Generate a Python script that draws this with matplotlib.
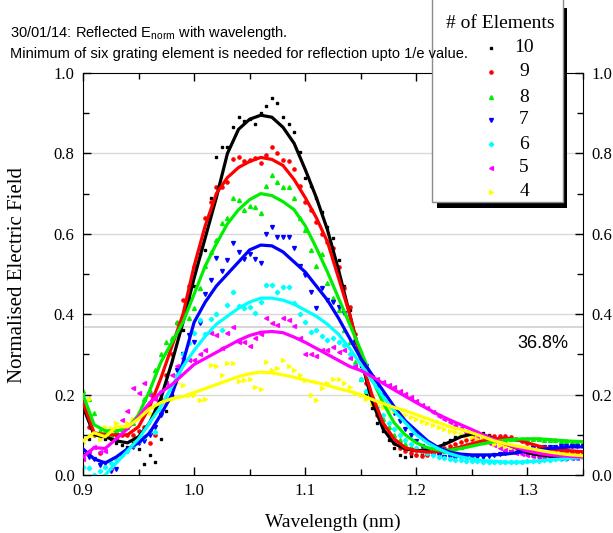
import matplotlib.pyplot as plt
from matplotlib.patches import Rectangle
from matplotlib.lines import Line2D
from matplotlib.ticker import MultipleLocator, FormatStrFormatter

# wavelength grid of the smoothed curves (nm)
wl_line = [0.90, 0.91, 0.92, 0.93, 0.94, 0.95, 0.96, 0.97, 0.98, 0.99,
           1.00, 1.01, 1.02, 1.03, 1.04, 1.05, 1.06, 1.07, 1.08, 1.09,
           1.10, 1.11, 1.12, 1.13, 1.14, 1.15, 1.16, 1.17, 1.18, 1.19,
           1.20, 1.21, 1.22, 1.23, 1.24, 1.25, 1.26, 1.27, 1.28, 1.29,
           1.30, 1.31, 1.32, 1.33, 1.34, 1.35]

# wavelength grid of the raw points (nm)
wl_pts = [0.900, 0.905, 0.910, 0.915, 0.920, 0.925, 0.930, 0.935, 0.940, 0.945,
          0.950, 0.955, 0.960, 0.965, 0.970, 0.975, 0.980, 0.985, 0.990, 0.995,
          1.000, 1.005, 1.010, 1.015, 1.020, 1.025, 1.030, 1.035, 1.040, 1.045,
          1.050, 1.055, 1.060, 1.065, 1.070, 1.075, 1.080, 1.085, 1.090, 1.095,
          1.100, 1.105, 1.110, 1.115, 1.120, 1.125, 1.130, 1.135, 1.140, 1.145,
          1.150, 1.155, 1.160, 1.165, 1.170, 1.175, 1.180, 1.185, 1.190, 1.195,
          1.200, 1.205, 1.210, 1.215, 1.220, 1.225, 1.230, 1.235, 1.240, 1.245,
          1.250, 1.255, 1.260, 1.265, 1.270, 1.275, 1.280, 1.285, 1.290, 1.295,
          1.300, 1.305, 1.310, 1.315, 1.320, 1.325, 1.330, 1.335, 1.340, 1.345,
          1.350]

# smoothed curves
line_10 = [0.17, 0.10, 0.095, 0.085, 0.08, 0.095, 0.13, 0.19, 0.28, 0.38,
           0.49, 0.59, 0.69, 0.80, 0.86, 0.885, 0.895, 0.89, 0.865, 0.825,
           0.76, 0.69, 0.61, 0.51, 0.40, 0.29, 0.185, 0.115, 0.078, 0.065,
           0.06, 0.063, 0.07, 0.082, 0.095, 0.102, 0.10, 0.09, 0.078, 0.067,
           0.055, 0.05, 0.047, 0.046, 0.045, 0.045]
line_9 = [0.18, 0.105, 0.10, 0.10, 0.10, 0.12, 0.17, 0.24, 0.32, 0.40,
          0.52, 0.62, 0.70, 0.74, 0.765, 0.78, 0.79, 0.785, 0.77, 0.735,
          0.69, 0.64, 0.58, 0.49, 0.40, 0.29, 0.20, 0.13, 0.09, 0.068,
          0.06, 0.057, 0.058, 0.063, 0.07, 0.078, 0.085, 0.09, 0.092, 0.088,
          0.08, 0.072, 0.066, 0.062, 0.06, 0.058]
line_8 = [0.20, 0.125, 0.11, 0.11, 0.115, 0.15, 0.21, 0.28, 0.33, 0.38,
          0.45, 0.52, 0.575, 0.625, 0.66, 0.685, 0.70, 0.695, 0.68, 0.66,
          0.62, 0.565, 0.505, 0.44, 0.375, 0.31, 0.24, 0.18, 0.13, 0.10,
          0.08, 0.068, 0.062, 0.062, 0.066, 0.072, 0.078, 0.083, 0.087, 0.089,
          0.09, 0.09, 0.088, 0.086, 0.084, 0.083]
line_7 = [0.065, 0.04, 0.03, 0.045, 0.065, 0.08, 0.105, 0.15, 0.20, 0.28,
          0.38, 0.43, 0.47, 0.50, 0.53, 0.56, 0.572, 0.57, 0.555, 0.53,
          0.505, 0.47, 0.435, 0.39, 0.34, 0.29, 0.25, 0.21, 0.17, 0.135,
          0.11, 0.085, 0.068, 0.057, 0.052, 0.05, 0.05, 0.05, 0.052, 0.055,
          0.06, 0.063, 0.066, 0.068, 0.07, 0.07]
line_6 = [-0.03, -0.015, 0.0, 0.03, 0.06, 0.09, 0.13, 0.17, 0.22, 0.27,
          0.31, 0.345, 0.375, 0.395, 0.415, 0.43, 0.44, 0.44, 0.435, 0.425,
          0.41, 0.395, 0.375, 0.35, 0.315, 0.275, 0.235, 0.195, 0.16, 0.13,
          0.10, 0.08, 0.065, 0.053, 0.045, 0.04, 0.036, 0.034, 0.032, 0.032,
          0.033, 0.035, 0.038, 0.04, 0.042, 0.044]
line_5 = [0.045, 0.068, 0.066, 0.09, 0.115, 0.145, 0.18, 0.205, 0.225, 0.25,
          0.275, 0.29, 0.305, 0.32, 0.335, 0.347, 0.355, 0.357, 0.354, 0.343,
          0.33, 0.315, 0.30, 0.285, 0.27, 0.26, 0.245, 0.228, 0.212, 0.196,
          0.18, 0.165, 0.15, 0.137, 0.125, 0.113, 0.10, 0.088, 0.077, 0.068,
          0.06, 0.054, 0.05, 0.048, 0.046, 0.045]
line_4 = [0.085, 0.105, 0.095, 0.12, 0.12, 0.14, 0.165, 0.18, 0.19, 0.195,
          0.205, 0.215, 0.225, 0.235, 0.245, 0.252, 0.256, 0.254, 0.249, 0.243,
          0.236, 0.23, 0.223, 0.215, 0.208, 0.20, 0.188, 0.178, 0.168, 0.16,
          0.15, 0.14, 0.13, 0.12, 0.113, 0.105, 0.095, 0.085, 0.078, 0.072,
          0.067, 0.062, 0.057, 0.053, 0.05, 0.048]

# raw points
pts_10 = [0.16, 0.09, 0.10, 0.095, 0.09, 0.09, 0.08, 0.075, 0.07, 0.08,
          0.065, 0.027, 0.05, 0.033, 0.09, 0.16, 0.20, 0.26, 0.36, 0.44,
          0.47, 0.55, 0.56, 0.69, 0.79, 0.815, 0.815, 0.866, 0.89, 0.88,
          0.885, 0.873, 0.90, 0.918, 0.937, 0.925, 0.89, 0.873, 0.853, 0.803,
          0.74, 0.72, 0.69, 0.655, 0.617, 0.59, 0.535, 0.47, 0.41, 0.34,
          0.27, 0.20, 0.167, 0.13, 0.11, 0.087, 0.067, 0.05, 0.045, 0.047,
          0.05, 0.052, 0.058, 0.065, 0.072, 0.08, 0.088, 0.095, 0.10, 0.105,
          0.108, 0.108, 0.105, 0.10, 0.095, 0.088, 0.08, 0.072, 0.065, 0.058,
          0.052, 0.048, 0.046, 0.045, 0.044, 0.044, 0.044, 0.044, 0.044, 0.045,
          0.045]
pts_9 = [0.17, 0.12, 0.10, 0.055, 0.10, 0.095, 0.10, 0.10, 0.10, 0.10,
         0.11, 0.12, 0.08, 0.10, 0.19, 0.25, 0.30, 0.378, 0.435, 0.47,
         0.518, 0.567, 0.64, 0.68, 0.716, 0.716, 0.729, 0.786, 0.79, 0.78,
         0.784, 0.789, 0.776, 0.796, 0.816, 0.80, 0.784, 0.781, 0.761, 0.72,
         0.68, 0.66, 0.63, 0.60, 0.58, 0.565, 0.518, 0.465, 0.418, 0.35,
         0.28, 0.23, 0.18, 0.15, 0.12, 0.10, 0.08, 0.068, 0.06, 0.054,
         0.05, 0.048, 0.05, 0.055, 0.06, 0.066, 0.072, 0.078, 0.083, 0.087,
         0.09, 0.093, 0.095, 0.097, 0.098, 0.098, 0.097, 0.094, 0.09, 0.085,
         0.08, 0.075, 0.07, 0.066, 0.063, 0.06, 0.058, 0.057, 0.056, 0.055,
         0.055]
pts_8 = [0.21, 0.19, 0.155, 0.11, 0.11, 0.10, 0.11, 0.115, 0.12, 0.13,
         0.15, 0.19, 0.21, 0.26, 0.30, 0.33, 0.34, 0.38, 0.40, 0.39,
         0.415, 0.465, 0.52, 0.555, 0.585, 0.627, 0.64, 0.69, 0.685, 0.66,
         0.67, 0.667, 0.652, 0.72, 0.746, 0.73, 0.717, 0.717, 0.69, 0.64,
         0.61, 0.56, 0.52, 0.55, 0.477, 0.44, 0.41, 0.36, 0.33, 0.28,
         0.24, 0.21, 0.19, 0.165, 0.14, 0.12, 0.10, 0.088, 0.078, 0.07,
         0.065, 0.062, 0.06, 0.058, 0.058, 0.06, 0.063, 0.067, 0.07, 0.074,
         0.077, 0.08, 0.083, 0.085, 0.087, 0.089, 0.09, 0.09, 0.09, 0.09,
         0.09, 0.09, 0.089, 0.088, 0.087, 0.086, 0.085, 0.084, 0.083, 0.083,
         0.082]
pts_7 = [0.05, 0.045, 0.04, 0.025, 0.03, 0.01, 0.015, 0.05, 0.06, 0.07,
         0.08, 0.085, 0.10, 0.12, 0.15, 0.18, 0.22, 0.26, 0.30, 0.348,
         0.33, 0.378, 0.45, 0.485, 0.54, 0.507, 0.535, 0.577, 0.555, 0.537,
         0.55, 0.537, 0.527, 0.60, 0.617, 0.593, 0.593, 0.593, 0.565, 0.52,
         0.497, 0.455, 0.415, 0.465, 0.435, 0.43, 0.418, 0.403, 0.378, 0.33,
         0.29, 0.27, 0.24, 0.22, 0.20, 0.175, 0.155, 0.135, 0.115, 0.10,
         0.085, 0.072, 0.062, 0.055, 0.05, 0.046, 0.044, 0.043, 0.043, 0.043,
         0.044, 0.045, 0.046, 0.048, 0.05, 0.052, 0.054, 0.057, 0.06, 0.062,
         0.064, 0.066, 0.068, 0.069, 0.07, 0.07, 0.071, 0.071, 0.072, 0.072,
         0.072]
pts_6 = [0.02, 0.017, 0.0, 0.01, 0.02, 0.03, 0.04, 0.05, 0.06, 0.075,
         0.085, 0.095, 0.11, 0.107, 0.16, 0.19, 0.22, 0.25, 0.30, 0.328,
         0.353, 0.385, 0.35, 0.388, 0.40, 0.36, 0.423, 0.455, 0.42, 0.415,
         0.418, 0.403, 0.43, 0.473, 0.473, 0.455, 0.467, 0.467, 0.427, 0.40,
         0.38, 0.356, 0.36, 0.345, 0.336, 0.34, 0.33, 0.323, 0.30, 0.27,
         0.24, 0.21, 0.19, 0.17, 0.15, 0.13, 0.115, 0.10, 0.088, 0.077,
         0.068, 0.06, 0.054, 0.049, 0.045, 0.042, 0.04, 0.038, 0.037, 0.036,
         0.035, 0.034, 0.033, 0.032, 0.032, 0.032, 0.032, 0.032, 0.033, 0.033,
         0.034, 0.035, 0.036, 0.037, 0.038, 0.039, 0.04, 0.041, 0.042, 0.043,
         0.044]
pts_5 = [0.04, 0.06, 0.07, 0.057, 0.06, 0.017, 0.09, 0.137, 0.16, 0.216,
         0.203, 0.228, 0.20, 0.19, 0.21, 0.23, 0.25, 0.27, 0.29, 0.285,
         0.285, 0.30, 0.31, 0.353, 0.348, 0.315, 0.353, 0.368, 0.33, 0.33,
         0.32, 0.34, 0.35, 0.39, 0.377, 0.373, 0.39, 0.385, 0.37, 0.34,
         0.30, 0.30, 0.295, 0.31, 0.31, 0.318, 0.306, 0.31, 0.29, 0.27,
         0.26, 0.25, 0.245, 0.238, 0.232, 0.225, 0.218, 0.21, 0.202, 0.193,
         0.184, 0.175, 0.166, 0.157, 0.148, 0.14, 0.132, 0.124, 0.116, 0.108,
         0.10, 0.093, 0.086, 0.08, 0.074, 0.068, 0.063, 0.059, 0.055, 0.052,
         0.05, 0.048, 0.046, 0.045, 0.044, 0.044, 0.043, 0.043, 0.043, 0.043,
         0.043]
pts_4 = [0.08, 0.19, 0.10, 0.09, 0.12, 0.116, 0.13, 0.12, 0.13, 0.14,
         0.155, 0.15, 0.153, 0.17, 0.18, 0.18, 0.19, 0.23, 0.224, 0.20,
         0.20, 0.187, 0.19, 0.273, 0.27, 0.25, 0.278, 0.278, 0.235, 0.236,
         0.24, 0.22, 0.215, 0.28, 0.26, 0.265, 0.285, 0.27, 0.26, 0.25,
         0.236, 0.20, 0.187, 0.216, 0.228, 0.24, 0.24, 0.23, 0.22, 0.205,
         0.20, 0.19, 0.18, 0.175, 0.17, 0.165, 0.16, 0.155, 0.15, 0.145,
         0.14, 0.135, 0.13, 0.125, 0.12, 0.115, 0.11, 0.106, 0.102, 0.098,
         0.094, 0.09, 0.086, 0.082, 0.078, 0.075, 0.072, 0.069, 0.066, 0.063,
         0.061, 0.059, 0.057, 0.055, 0.053, 0.052, 0.05, 0.049, 0.048, 0.047,
         0.046]

labels = ['10', '9', '8', '7', '6', '5', '4']
colors = ['black', '#ff0000', '#00ee00', '#0000ff', '#00ffff', '#ff00ff', '#ffff00']
markers = ['s', 'o', '^', 'v', 'D', '<', '>']
msizes = [1.9, 2.3, 2.8, 2.8, 2.3, 2.8, 2.8]
points = [pts_10, pts_9, pts_8, pts_7, pts_6, pts_5, pts_4]
curves = [line_10, line_9, line_8, line_7, line_6, line_5, line_4]

plt.rcParams['font.family'] = ['Liberation Serif', 'DejaVu Serif']
W, H = 613, 533
fig = plt.figure(figsize=(W / 100, H / 100), dpi=100)
ax = fig.add_axes([83 / W, 1 - 475 / H, 500 / W, 402 / H])

for g in [0.2, 0.4, 0.6, 0.8]:
    ax.axhline(g, color='#d9d9d9', lw=1, zorder=0)
ax.axhline(0.368, color='#cfcfcf', lw=1.2, zorder=0)

for pts, c, m, ms in zip(points, colors, markers, msizes):
    ax.plot(wl_pts, pts, ls='none', marker=m, ms=ms, color=c, mec=c, zorder=2)
for cur, c in zip(curves, colors):
    ax.plot(wl_line, cur, color=c, lw=2.3, zorder=3)

ax.text(1.3135, 0.328, '36.8%', family='Liberation Sans', fontsize=13,
        ha='center', va='center')

ax.set_xlim(0.9, 1.35)
ax.set_ylim(0, 1.0)
ax.xaxis.set_major_locator(MultipleLocator(0.1))
ax.xaxis.set_minor_locator(MultipleLocator(0.05))
ax.yaxis.set_major_locator(MultipleLocator(0.2))
ax.yaxis.set_minor_locator(MultipleLocator(0.1))
ax.xaxis.set_major_formatter(FormatStrFormatter('%.1f'))
ax.yaxis.set_major_formatter(FormatStrFormatter('%.1f'))
ax.tick_params(which='both', direction='in', top=True, right=True,
               labelright=True, labelsize=12, width=1)
ax.tick_params(which='major', length=6, pad=6)
ax.tick_params(which='minor', length=4)

fig.text(18 / W, 1 - 275 / H, 'Normalised Electric Field', rotation=90,
         ha='center', va='center', fontsize=15)
fig.text(333 / W, 1 - 522 / H, 'Wavelength (nm)', ha='center', va='center',
         fontsize=14)

# legend box with black shadow
fig.add_artist(Rectangle((437 / W, 1 - 208 / H), 130 / W, 200 / H,
                         transform=fig.transFigure, fc='black', ec='none', zorder=4))
fig.add_artist(Rectangle((432 / W, 1 - 202 / H), 131 / W, 204 / H,
                         transform=fig.transFigure, fc='white', ec='#8a8a8a',
                         lw=1, zorder=5))
fig.text(500 / W, 1 - 24 / H, '# of Elements', ha='center', va='center',
         fontsize=14, zorder=6)
entry_y = [48, 72, 97, 120, 144, 168, 192]
for lab, c, m, ms, yy in zip(labels, colors, markers, msizes, entry_y):
    fig.add_artist(Line2D([491 / W], [1 - yy / H], ls='none', marker=m, ms=ms,
                          color=c, mec=c, transform=fig.transFigure, zorder=6))
    fig.text(524 / W, 1 - yy / H, lab, ha='center', va='center', fontsize=14,
             zorder=6)

fig.text(10 / W, 1 - 37 / H, r'30/01/14: Reflected E$_{\mathregular{norm}}$ with wavelength.',
         family='Liberation Sans', fontsize=10.5, va='baseline', zorder=7)
fig.text(10 / W, 1 - 58 / H,
         'Minimum of six grating element is needed for reflection upto 1/e value.',
         family='Liberation Sans', fontsize=10.5, va='baseline', zorder=7)

fig.savefig('out.png', dpi=100)
